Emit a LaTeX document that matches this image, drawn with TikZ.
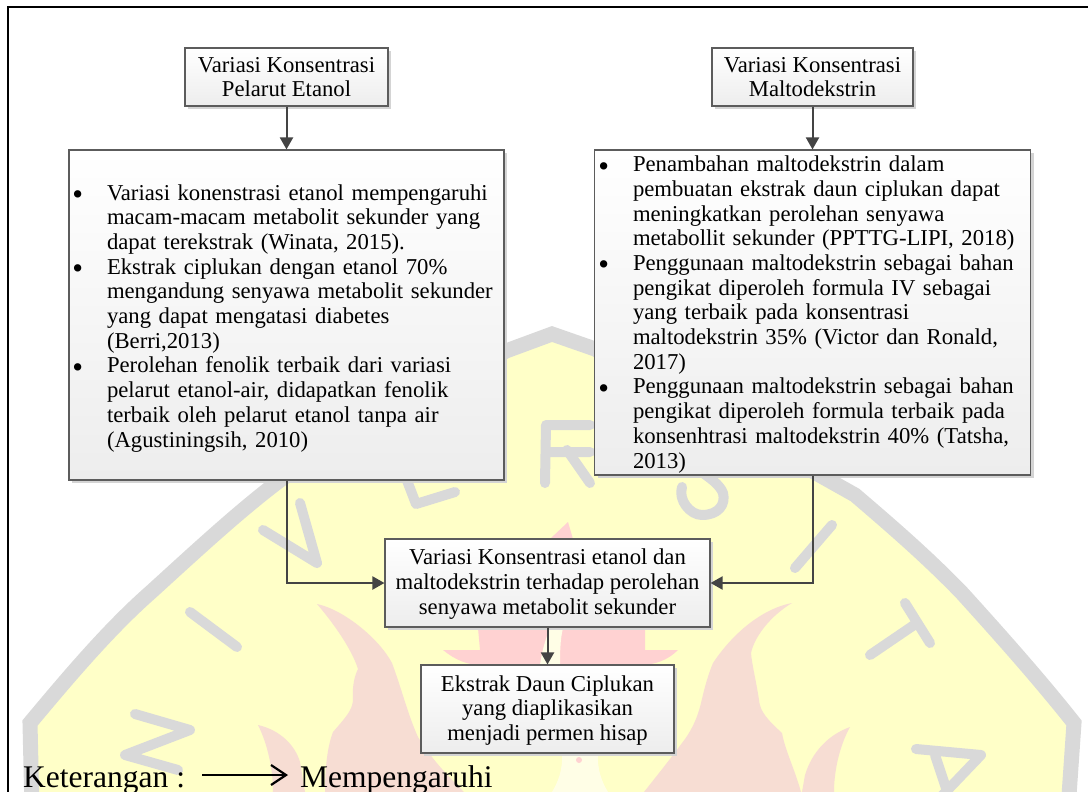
\documentclass[tikz,border=0pt]{standalone}
\usepackage{fontspec}
\setmainfont{Liberation Serif}
\usetikzlibrary{arrows.meta,shadows}
\definecolor{wmyellow}{HTML}{FFFFC8}
\definecolor{wmgray}{HTML}{D9D9D9}
\definecolor{wmflame}{HTML}{F7DDD3}
\definecolor{wmcore}{HTML}{FFD2D2}
\definecolor{wmcream}{HTML}{FFFEE6}
\definecolor{boxline}{HTML}{5C5C5C}
\definecolor{boxlow}{HTML}{EDEDED}
\definecolor{arrowdark}{HTML}{444444}
\newcommand{\LL}[1]{\mbox{#1}\\}
\newcommand{\BL}[1]{\mbox{\llap{\raisebox{-4.5pt}{\scalebox{1.35}{\textbullet}}\hspace{24pt}}#1}\\}
\tikzset{
  boxstyle/.style={draw=boxline,line width=1.1pt,top color=white,bottom color=boxlow,
    drop shadow={shadow xshift=3pt,shadow yshift=-3pt,opacity=1,fill=black!17},
    inner sep=0pt,font=\fontsize{22.7pt}{24.7pt}\selectfont},
  smallbox/.style={boxstyle,align=center},
  bigbox/.style={boxstyle,align=left,text width=359pt},
  conn/.style={draw=arrowdark,line width=2pt,-{Triangle[width=13pt,length=12pt]}},
  letter/.style={draw=wmgray,line width=10pt,line cap=round,line join=round},
  legendtext/.style={inner sep=0pt,anchor=base west,font=\fontsize{31.5pt}{33pt}\selectfont},
}
\begin{document}
\begin{tikzpicture}[x=1pt,y=-1pt]
\useasboundingbox (0,0) rectangle (1088,792);
\begin{scope}
\clip (0,0) rectangle (1088,792);
% shield
\draw[fill=wmyellow,draw=wmgray,line width=15pt,line join=miter]
  (32,810) -- (30,723) .. controls (70,675) and (110,628) .. (151,592)
  .. controls (195,552) and (240,510) .. (283,478)
  -- (506,351) -- (552,334) -- (595,349)
  -- (855,495) .. controls (890,525) and (925,555) .. (961,592)
  .. controls (1000,635) and (1040,680) .. (1074,723) -- (1068,810);
% flames
\fill[wmflame] (317,604) .. controls (345,610) and (380,640) .. (392,663)
  .. controls (402,690) and (408,715) .. (418,737) .. controls (432,760) and (450,778) .. (464,792)
  -- (325,792) .. controls (325,765) and (328,745) .. (333,732)
  .. controls (345,718) and (353,710) .. (353,699) .. controls (352,685) and (355,675) .. (358,669)
  .. controls (352,650) and (335,625) .. (317,604) -- cycle;
\fill[wmflame] (258,725) .. controls (280,730) and (295,745) .. (300,762) -- (305,792) -- (273,792)
  .. controls (273,770) and (268,745) .. (258,725) -- cycle;
\fill[wmflame] (792,603) .. controls (765,608) and (735,630) .. (713,663)
  .. controls (706,680) and (703,695) .. (701,703) .. controls (697,720) and (690,733) .. (682,743)
  .. controls (668,762) and (655,778) .. (644,792) -- (801,792)
  .. controls (795,770) and (785,750) .. (782,733) .. controls (768,720) and (760,712) .. (759,700)
  .. controls (756,680) and (752,665) .. (751,653) .. controls (755,635) and (772,615) .. (792,603) -- cycle;
\fill[wmflame] (850,727) .. controls (828,735) and (812,752) .. (805,775) -- (802,792) -- (834,792)
  .. controls (834,770) and (840,745) .. (850,727) -- cycle;
\fill[wmcore] (568,522) -- (550,539) -- (500,600) -- (478,628) -- (480,650) -- (443,650)
  .. controls (455,660) and (468,665) .. (480,665) -- (640,665)
  .. controls (655,665) and (668,660) .. (678,650) -- (645,650) -- (645,628) -- (600,600) -- (573,539) -- cycle;
\fill[wmcream] (550,628) -- (563,628) .. controls (560,640) and (560,655) .. (560,665) -- (540,665)
  .. controls (542,650) and (546,638) .. (550,628) -- cycle;
\fill[wmcream] (562,753) -- (598,753) .. controls (597,770) and (602,782) .. (608,792) -- (552,792)
  .. controls (558,782) and (563,770) .. (562,753) -- cycle;
\fill[wmcore] (579,760) circle (3pt);
% letters
\draw[letter] (190,612) -- (237,647);
\draw[letter] (135,714) -- (190,730) -- (125,755) -- (178,770);
\draw[letter] (263,530) -- (317,563) -- (300,503);
\draw[letter] (403,470) -- (416,504) -- (455,492);
\draw[letter] (590,483) -- (567,450);
\draw[letter] (545,483) -- (546,425) -- (590,425) (546,452) -- (590,452);
\draw[letter] (682,487) .. controls (678,500) and (690,515) .. (702,515)
  .. controls (718,515) and (726,505) .. (723,493) .. controls (720,485) and (710,478) .. (703,473);
\draw[letter] (832,525) -- (795,568);
\draw[letter] (905,603) -- (930,643) (917,623) -- (870,655);
\draw[letter] (916,749) -- (981,755) -- (938,800) (935,755) -- (950,800);
\end{scope}
% page frame
\draw[black,line width=2pt] (1088,7.5) -- (7.5,7.5) -- (7.5,792);
% boxes
\node[smallbox,minimum width=203pt,minimum height=58pt] (k1) at (286.5,77)
  {Variasi Konsentrasi\\Pelarut Etanol};
\node[smallbox,minimum width=201pt,minimum height=58pt] (k2) at (812.5,77)
  {Variasi Konsentrasi\\Maltodekstrin};
\node[bigbox,minimum width=435pt,minimum height=330pt] (b1) at (286.5,315) {%
  \BL{\rule{0pt}{22pt}Variasi konenstrasi etanol mempengaruhi}
  \LL{macam-macam metabolit sekunder yang}
  \LL{dapat terekstrak (Winata, 2015).}
  \BL{Ekstrak ciplukan dengan etanol 70\%}
  \LL{mengandung senyawa metabolit sekunder}
  \LL{yang dapat mengatasi diabetes}
  \LL{(Berri,2013)}
  \BL{Perolehan fenolik terbaik dari variasi}
  \LL{pelarut etanol-air, didapatkan fenolik}
  \LL{terbaik oleh pelarut etanol tanpa air}
  \mbox{(Agustiningsih, 2010)}};
\node[bigbox,minimum width=436pt,minimum height=325pt] (b2) at (812.5,312.5) {%
  \BL{\rule{0pt}{19.5pt}Penambahan maltodekstrin dalam}
  \LL{pembuatan ekstrak daun ciplukan dapat}
  \LL{meningkatkan perolehan senyawa}
  \LL{metabollit sekunder (PPTTG-LIPI, 2018)}
  \BL{Penggunaan maltodekstrin sebagai bahan}
  \LL{pengikat diperoleh formula IV sebagai}
  \LL{yang terbaik pada konsentrasi}
  \LL{maltodekstrin 35\% (Victor dan Ronald,}
  \LL{2017)}
  \BL{Penggunaan maltodekstrin sebagai bahan}
  \LL{pengikat diperoleh formula terbaik pada}
  \LL{konsenhtrasi maltodekstrin 40\% (Tatsha,}
  \mbox{2013)}};
\node[smallbox,minimum width=325pt,minimum height=88pt] (c) at (547.5,583)
  {\rule{0pt}{17.5pt}Variasi Konsentrasi etanol dan\\maltodekstrin terhadap perolehan\\senyawa metabolit sekunder};
\node[smallbox,minimum width=253pt,minimum height=88pt] (e) at (547.5,709)
  {\rule{0pt}{18.5pt}Ekstrak Daun Ciplukan\\yang diaplikasikan\\menjadi permen hisap};
% connectors
\draw[conn] (k1) -- (b1);
\draw[conn] (k2) -- (b2);
\draw[conn] (b1.south) |- (c.west);
\draw[conn] (b2.south) |- (c.east);
\draw[conn] (c) -- (e);
% legend
\node[legendtext] (ket) at (23,787) {Keterangan :};
\node[legendtext] (mem) at (300,787) {Mempengaruhi};
\coordinate (la) at (202,775);
\coordinate (lb) at (288,775);
\draw[black,line width=2.2pt,-{Straight Barb[width=20pt,length=15pt]}] (la) -- (lb);
\end{tikzpicture}
\end{document}
